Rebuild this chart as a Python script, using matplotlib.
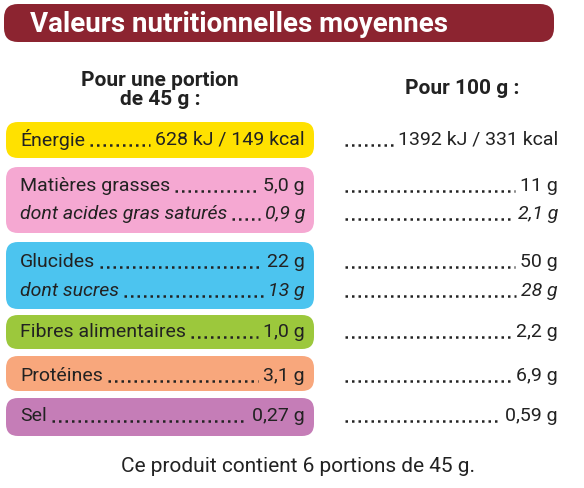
import matplotlib.pyplot as plt
from matplotlib.patches import FancyBboxPatch

labels = ["Énergie", "Matières grasses", "dont acides gras saturés", "Glucides", "dont sucres",
          "Fibres alimentaires", "Protéines", "Sel"]
per_portion = ["628 kJ / 149 kcal", "5,0 g", "0,9 g", "22 g", "13 g", "1,0 g", "3,1 g", "0,27 g"]
per_100g = ["1392 kJ / 331 kcal", "11 g", "2,1 g", "50 g", "28 g", "2,2 g", "6,9 g", "0,59 g"]
italic = [False, False, True, False, True, False, False, False]
band_of_row = [0, 1, 1, 2, 2, 3, 4, 5]
band_colors = ["#ffe100", "#f5a8d2", "#4cc4ef", "#9cc83c", "#f8a77c", "#c57db7"]

row_y = [140, 186, 214, 262, 291, 332, 376, 416]
band_y = [(122, 158), (167, 233), (242, 309), (315, 349), (356, 391), (398, 436)]

FONT = ["Liberation Sans Narrow", "Roboto", "DejaVu Sans"]
fig = plt.figure(figsize=(5.84, 4.88), dpi=100)
ax = fig.add_axes([0, 0, 1, 1])
ax.set_xlim(0, 584)
ax.set_ylim(488, 0)
ax.axis("off")

# header band
ax.add_patch(FancyBboxPatch((4, 4), 550, 38, boxstyle="round,pad=0,rounding_size=14",
                            fc="#8c2430", ec="none"))
ax.text(30, 24, "Valeurs nutritionnelles moyennes", color="white", fontsize=20,
        fontweight="bold", va="center", family=FONT)
ax.text(160, 90, "Pour une portion\nde 45 g :", ha="center", va="center", fontsize=15,
        fontweight="bold", family=FONT, color="#222", linespacing=1.0)
ax.text(462, 89, "Pour 100 g :", ha="center", va="center", fontsize=15,
        fontweight="bold", family=FONT, color="#222")

for (y0, y1), c in zip(band_y, band_colors):
    ax.add_patch(FancyBboxPatch((6, y0), 308, y1 - y0, boxstyle="round,pad=0,rounding_size=12",
                                fc=c, ec="none"))

fig.canvas.draw()
r = fig.canvas.get_renderer()
inv = ax.transData.inverted()

def xext(t):
    bb = t.get_window_extent(r)
    (x0, _), (x1, _) = inv.transform([[bb.x0, bb.y0], [bb.x1, bb.y1]])
    return x0, x1

for lab, pv, hv, it, y in zip(labels, per_portion, per_100g, italic, row_y):
    st = "italic" if it else "normal"
    kw = dict(va="center", fontsize=14, family=FONT, color="#222", style=st)
    t1 = ax.text(20, y, lab, ha="left", **kw)
    t2 = ax.text(305, y, pv, ha="right", **kw)
    t3 = ax.text(558, y, hv, ha="right", **kw)
    a = xext(t1)[1] + 5
    b = xext(t2)[0] - 5
    ax.plot([a, b], [y + 5, y + 5], ls=(0, (1, 1.6)), lw=1.8, color="#222")
    c = xext(t3)[0] - 5
    ax.plot([345, c], [y + 5, y + 5], ls=(0, (1, 1.6)), lw=1.8, color="#222")

ax.text(298, 467, "Ce produit contient 6 portions de 45 g.", ha="center", va="center",
        fontsize=15, family=FONT, color="#222")

fig.savefig("out.png", dpi=100)
